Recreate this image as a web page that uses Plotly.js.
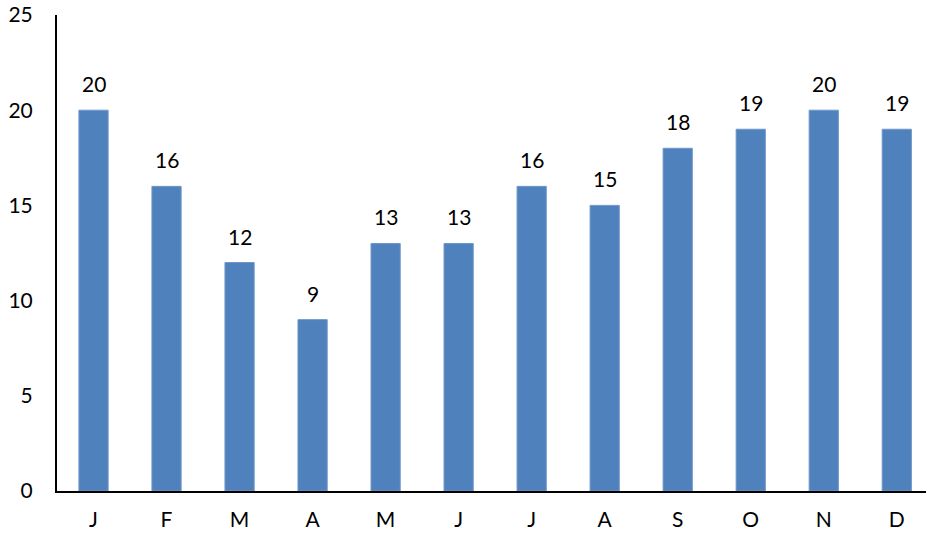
<!DOCTYPE html>
<html>
<head>
<meta charset="utf-8">
<script src="https://cdn.plot.ly/plotly-3.0.1.min.js"></script>
<style>html,body{margin:0;padding:0;background:#fff;overflow:hidden}</style>
</head>
<body>
<div id="chart" style="width:926px;height:535px"></div>
<script>
const months = ['J','F','M','A','M','J','J','A','S','O','N','D'];
const values = [20,16,12,9,13,13,16,15,18,19,20,19];
const yTicks = [0,5,10,15,20,25];

const idx = months.map((m,i)=>i);
const font = {family:'Lato, "Open Sans", sans-serif', size:21, color:'#000'};

const trace = {
  type:'bar', x: idx, y: values, width:0.4,
  marker:{color:'#4F81BD', line:{color:'#6E97C9', width:1}},
  hoverinfo:'none'
};
const annotations = idx.map(i=>({
  x:i, y:values[i], text:String(values[i]), showarrow:false,
  yanchor:'bottom', xanchor:'center', yshift:12, font:font
}));
const layout = {
  width:926, height:535,
  margin:{l:57, r:0, t:15, b:44},
  paper_bgcolor:'#fff', plot_bgcolor:'#fff',
  showlegend:false,
  font:font,
  xaxis:{
    range:[-0.5, 11.4], tickmode:'array', tickvals:idx, ticktext:months,
    showgrid:false, zeroline:false, showline:true, linecolor:'#000', linewidth:2,
    ticks:'outside', ticklen:9, tickcolor:'rgba(0,0,0,0)', tickfont:font
  },
  yaxis:{
    range:[0,25], tickmode:'array', tickvals:yTicks,
    showgrid:false, zeroline:false, showline:true, linecolor:'#000', linewidth:2,
    ticks:'outside', ticklen:18, tickcolor:'rgba(0,0,0,0)', tickfont:font
  },
  annotations: annotations
};
Plotly.newPlot('chart',[trace],layout,{staticPlot:true});
</script>
</body>
</html>
